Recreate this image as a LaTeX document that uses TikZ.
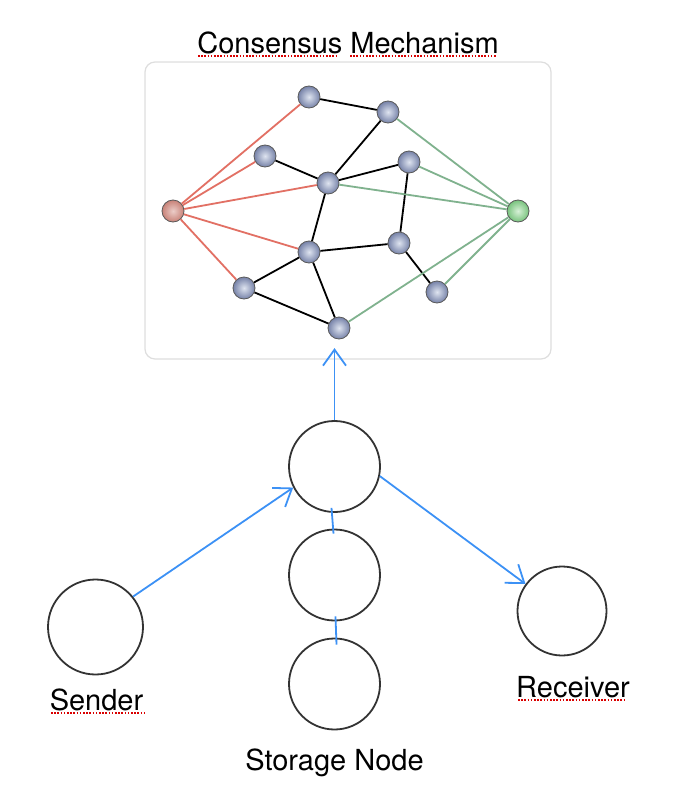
\documentclass[tikz,border=0pt]{standalone}
\usepackage{fontspec}
\setmainfont{TeX Gyre Heros}
\usetikzlibrary{arrows.meta}
\definecolor{flowblue}{RGB}{60,145,245}
\definecolor{redlink}{RGB}{226,112,100}
\definecolor{greenlink}{RGB}{128,178,142}
\definecolor{peerlight}{RGB}{222,228,240}
\definecolor{peerdark}{RGB}{118,130,168}
\tikzset{
	peer/.style={circle, inner sep=0pt, minimum size=22pt, shade, inner color=peerlight, outer color=peerdark, draw=black!65, line width=0.8pt},
	store/.style={circle, inner sep=0pt, minimum size=91pt, draw=black!80, line width=1.8pt},
	flow/.style={flowblue, line width=1.8pt, -{Straight Barb[length=16pt, width=23pt, line width=1.8pt]}},
	link/.style={flowblue, line width=1.8pt},
	wire/.style={line width=1.8pt},
	label/.style={anchor=base, font=\fontsize{29}{35}\selectfont},
	squiggle/.style={red!85!black, line width=1.6pt, dash pattern=on 1.6pt off 1.6pt}
}
\begin{document}
\begin{tikzpicture}[x=1pt, y=-1pt]
	\useasboundingbox (0,0) rectangle (682,811);
	\node (Box) at (348,210.5) [draw=black!13, fill=white, line width=1.2pt, rounded corners=10pt, minimum width=406pt, minimum height=297pt] {};
	\node (T) at (348,53) [label] {Consensus Mechanism};
	\draw[squiggle] (198,56) -- (338,56);
	\draw[squiggle] (350,56) -- (497,56);
	\node (R) at (173,211) [peer, inner color={rgb,255:red,235;green,205;blue,200}, outer color={rgb,255:red,200;green,130;blue,120}] {};
	\node (G) at (518,211) [peer, inner color={rgb,255:red,215;green,240;blue,215}, outer color={rgb,255:red,120;green,195;blue,125}] {};
	\node (A) at (309,97) [peer] {};
	\node (B) at (388,112) [peer] {};
	\node (C) at (265,156) [peer] {};
	\node (D) at (409,162) [peer] {};
	\node (E) at (328,183) [peer] {};
	\node (F) at (309,252) [peer] {};
	\node (H) at (399,243) [peer] {};
	\node (K) at (244,288) [peer] {};
	\node (L) at (437,292) [peer] {};
	\node (J) at (339,328) [peer] {};
	\draw[wire] (A) -- (B) -- (E) -- (C);
	\draw[wire] (E) -- (D) -- (H) -- (F) -- (E);
	\draw[wire] (H) -- (L);
	\draw[wire] (K) -- (F) -- (J) -- (K);
	\draw[wire, redlink] (R) -- (A);
	\draw[wire, redlink] (R) -- (C);
	\draw[wire, redlink] (R) -- (E);
	\draw[wire, redlink] (R) -- (F);
	\draw[wire, redlink] (R) -- (K);
	\draw[wire, greenlink] (G) -- (B);
	\draw[wire, greenlink] (G) -- (D);
	\draw[wire, greenlink] (G) -- (E);
	\draw[wire, greenlink] (G) -- (J);
	\draw[wire, greenlink] (G) -- (L);
	\node (S1) at (334.5,466.5) [store] {};
	\node (S2) at (334.5,575) [store] {};
	\node (S3) at (334.5,684) [store] {};
	\node (Snd) at (95.5,627) [store, minimum size=95pt] {};
	\node (Rcv) at (562,611) [store, minimum size=89pt] {};
	\node at (96.5,710) [label] {Sender};
	\draw[squiggle] (51,713) -- (144,713);
	\node at (573,697) [label] {Receiver};
	\draw[squiggle] (518,700) -- (626,700);
	\node at (334.5,770) [label] {Storage Node};
	\draw[flow] (S1.north) -- ++(0,-72);
	\draw[flow] (Snd.39) -- (S1.207);
	\draw[flow] (S1.-12) -- (Rcv);
	\draw[link] ([xshift=-3pt, yshift=5pt]S1.south) -- ([xshift=-1pt, yshift=-5pt]S2.north);
	\draw[link] ([xshift=1pt, yshift=5pt]S2.south) -- ([xshift=2pt, yshift=-7pt]S3.north);
\end{tikzpicture}
\end{document}
